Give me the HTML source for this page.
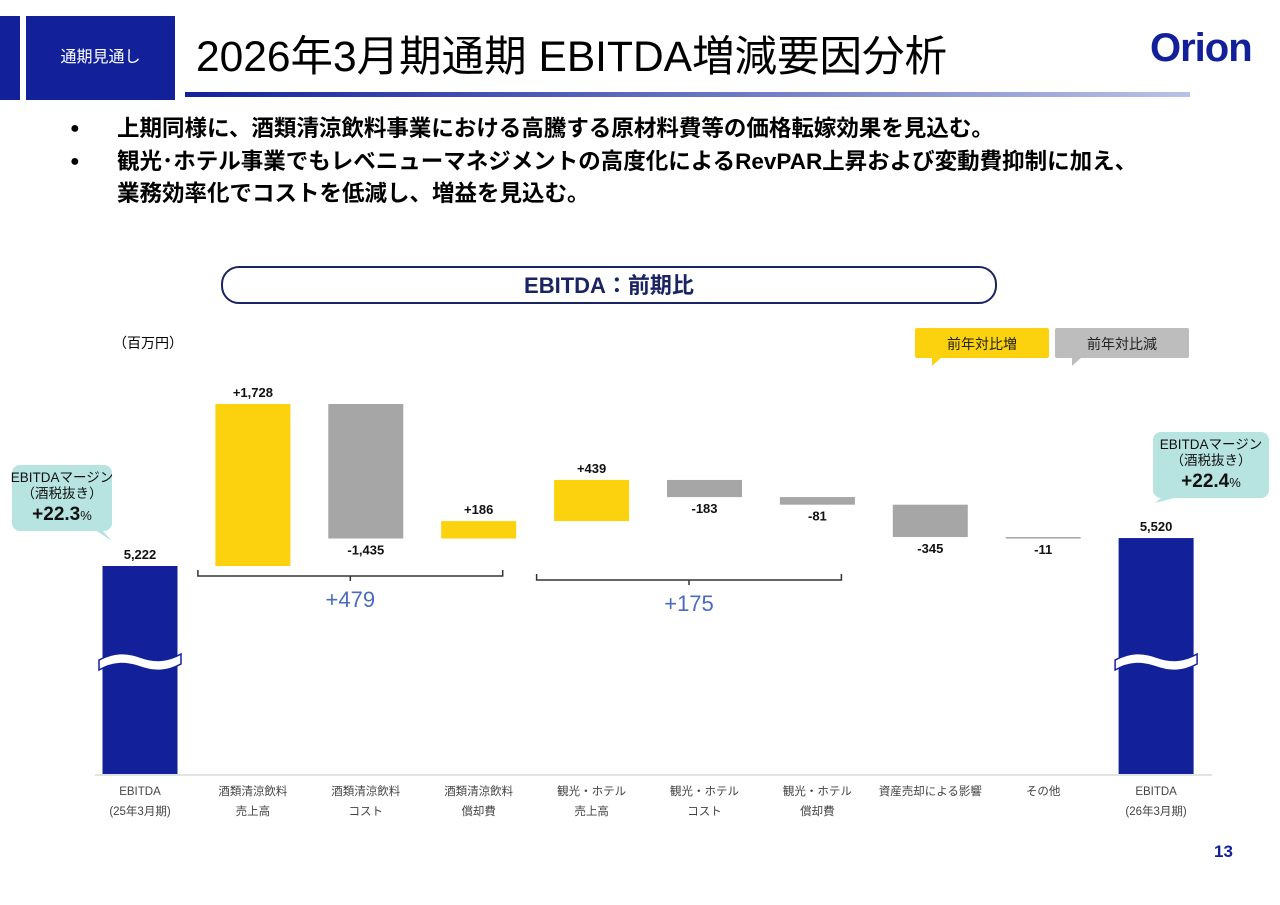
<!DOCTYPE html>
<html><head><meta charset="utf-8">
<style>
body{margin:0;width:1280px;height:905px;background:#fff;overflow:hidden;font-family:"Liberation Sans","Noto Sans CJK JP",sans-serif;position:relative}
.a{position:absolute}
</style></head><body>
<div class="a" style="left:0;top:16px;width:20px;height:84px;background:#12219a"></div>
<div class="a" style="left:26px;top:16px;width:149px;height:84px;background:#12219a;color:#fff;font-size:16px;line-height:84px;text-align:center">通期見通し</div>
<div class="a" style="left:196px;top:30px;font-size:42.5px;color:#000;line-height:56px">2026年3月期通期 EBITDA増減要因分析</div>
<div class="a" style="left:185px;top:92px;width:1005px;height:5px;background:linear-gradient(90deg,#12219a,#b8c2e6)"></div>
<div class="a" style="left:1150px;top:26px;font-size:40px;font-weight:bold;color:#12219a;letter-spacing:-1px">Orion</div>
<div class="a" style="left:70px;top:113px;font-size:22.5px;font-weight:bold;line-height:32px"><span style="font-size:16px;vertical-align:3px">●</span><span style="position:absolute;left:47px;white-space:nowrap">上期同様に、酒類清涼飲料事業における高騰する原材料費等の価格転嫁効果を見込む。</span></div>
<div class="a" style="left:70px;top:146px;font-size:22.5px;font-weight:bold;line-height:32px;white-space:nowrap"><span style="font-size:16px;vertical-align:3px">●</span><span style="position:absolute;left:47px">観光･ホテル事業でもレベニューマネジメントの高度化によるRevPAR上昇および変動費抑制に加え、</span><br><span style="position:absolute;left:47px">業務効率化でコストを低減し、増益を見込む。</span></div>
<div class="a" style="left:221px;top:266px;width:772px;height:34px;border:2px solid #1a2462;border-radius:18px;text-align:center;font-size:22px;line-height:36px;color:#1a2462;font-weight:bold">EBITDA：前期比</div>
<div class="a" style="left:113px;top:333px;font-size:14px">（百万円）</div>
<svg class="a" style="left:0;top:0" width="1280" height="905" id="chart"></svg>
<div class="a" style="left:1214px;top:842px;font-size:17px;font-weight:bold;color:#12219a">13</div>
<script>
const categories=["EBITDA\n(25年3月期)","酒類清涼飲料\n売上高","酒類清涼飲料\nコスト","酒類清涼飲料\n償却費","観光・ホテル\n売上高","観光・ホテル\nコスト","観光・ホテル\n償却費","資産売却による影響","その他","EBITDA\n(26年3月期)"];
const values=[5222,1728,-1435,186,439,-183,-81,-345,-11,5520];
const valueLabels=["5,222","+1,728","-1,435","+186","+439","-183","-81","-345","-11","5,520"];
const groupTotals=["+479","+175"];
const groupRanges=[[1,3],[4,6]];
const NS="http://www.w3.org/2000/svg";
const svg=document.getElementById('chart');
const base=5222, y0=566, k=0.09375, bottom=774;
const y=v=>y0-(v-base)*k;
const cx=i=>140+i*112.9;
const bw=75;
function mk(t,a,p){const e=document.createElementNS(NS,t);for(const n in a)e.setAttribute(n,a[n]);(p||svg).appendChild(e);return e;}
const bl=mk('line',{x1:95,x2:1212,y1:bottom+1,y2:bottom+1,stroke:'#e3e3e3','stroke-width':2});


let cum=base;
values.forEach((v,i)=>{
  let top,bot,fill;
  const last=i===values.length-1;
  if(i===0||last){top=y(v);bot=bottom;fill='#12219a';}
  else{const a=cum,b=cum+v;top=y(Math.max(a,b));bot=y(Math.min(a,b));fill=v>=0?'#fcd20f':'#a6a6a6';cum=b;}
  const r=mk('rect',{x:cx(i)-bw/2,y:top,width:bw,height:Math.max(bot-top,1.5),fill:fill});
  
  
  const pos=(i===0||last||v>=0);
  const t=mk('text',{x:cx(i),y:pos?top-7:bot+16,'text-anchor':'middle','font-size':13,'font-weight':'bold',fill:'#111'});
  t.textContent=valueLabels[i];
  
  
  const lines=categories[i].split('\n');
  lines.forEach((l,j)=>{const c=mk('text',{x:cx(i),y:795+j*20,'text-anchor':'middle','font-size':11.5,fill:'#444'});c.textContent=l;
    
    });
  if(i===0||last){
    const x0=cx(i)-41;
    const g=mk('path',{d:`M${x0} 660 c15 -8 27 -8 41 -3 s27 5 41 -3 v10 c-15 8 -27 8 -41 3 s-27 -5 -41 3z`,fill:'#fff',stroke:'#12219a','stroke-width':1.5});
    
    
  }
});
const bracketY=[576,580];
groupRanges.forEach((gr,gi)=>{
  const x1=cx(gr[0])-55, x2=cx(gr[1])+24, yy=bracketY[gi], m=(x1+x2)/2;
  const p=mk('path',{d:`M${x1} ${yy-6} V${yy} H${x2} V${yy-6} M${m} ${yy} V${yy+5}`,fill:'none',stroke:'#333','stroke-width':1.5});
  
  
  const t=mk('text',{x:m,y:yy+31,'text-anchor':'middle','font-size':22,fill:'#4a6bbf'});
  t.textContent=groupTotals[gi];
  
  
});
[[915,'#fcd20f','前年対比増'],[1055,'#bdbdbd','前年対比減']].forEach(([x,c,l])=>{
  const g=mk('rect',{x:x,y:328,width:134,height:30,rx:2,fill:c});
  
  
  mk('path',{d:`M${x+17} 357 l10 0 l-10 9z`,fill:c});
  const t=mk('text',{x:x+67,y:349,'text-anchor':'middle','font-size':14,fill:'#222'});t.textContent=l;
});
function callout(x,yy,w,h,tip,val){
  const g=mk('rect',{x:x,y:yy,width:w,height:h,rx:8,fill:'#b7e3e0'});
  
  
  mk('path',{d:tip,fill:'#b7e3e0'});
  const c=x+w/2;
  mk('text',{x:c,y:yy+17,'text-anchor':'middle','font-size':13.5,fill:'#111'}).textContent='EBITDAマージン';
  mk('text',{x:c,y:yy+33,'text-anchor':'middle','font-size':13.5,fill:'#111'}).textContent='（酒税抜き）';
  const d=mk('text',{x:c,y:yy+55,'text-anchor':'middle','font-size':19,'font-weight':'bold',fill:'#111'});d.innerHTML=val+'<tspan font-size="13" font-weight="normal">%</tspan>';
}
callout(12,465,100,66,'M95 530 L112 541 L102 530z','+22.3');
callout(1153,432,116,66,'M1162 497 L1155 503 L1178 497z','+22.4');
</script>
</body></html>
